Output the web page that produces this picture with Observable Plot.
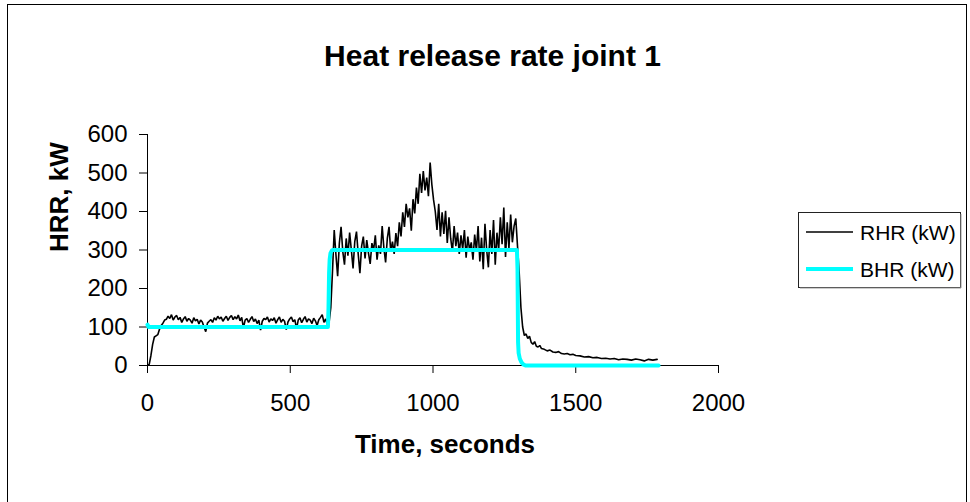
<!DOCTYPE html>
<html>
<head>
<meta charset="utf-8">
<script src="https://cdn.jsdelivr.net/npm/d3@7"></script>
<script src="https://cdn.jsdelivr.net/npm/@observablehq/plot@0.6"></script>
<style>
  body { margin: 0; background: #fff; overflow: hidden; }
  #wrap { position: relative; width: 970px; height: 502px; overflow: hidden; background: #fff;
          font-family: Arial, "Liberation Sans", sans-serif; }
  #wrap svg { position: absolute; left: 0; top: 0; }
  #frame { position: absolute; left: 7px; top: 4px; width: 958px; height: 560px;
           border: 1px solid #000; pointer-events: none; }
  #legend { position: absolute; left: 798px; top: 212px; }
</style>
</head>
<body>
<div id="wrap">
  <div id="chart"></div>
  <div id="frame"></div>
  <div id="legend"></div>
</div>
<script>
// ---- Data ----
const titleText = "Heat release rate joint 1";
const xLabel = "Time, seconds";
const yLabel = "HRR, kW";
const seriesNames = ["RHR (kW)", "BHR (kW)"];
const seriesColors = ["#000000", "#00FFFF"];
const xTicks = [0, 500, 1000, 1500, 2000];
const yTicks = [0, 100, 200, 300, 400, 500, 600];

// RHR (kW): measured heat release rate, [time s, kW]
const rhrRamp = [[0,0],[6,3],[12,26],[18,55],[24,74],[30,77],[36,80],[42,94],[48,104],[54,110],[60,118]];
const rhrLow = [[66,120],[72,128],[78,122],[84,132],[90,118],[96,126],[102,130],[108,119],[114,125],[120,112],
  [126,121],[132,127],[138,115],[144,122],[150,118],[156,110],[162,124],[168,116],[174,120],[180,108],
  [186,118],[192,113],[198,100],[204,88],[210,110],[216,115],[222,119],[228,112],[234,124],[240,118],
  [246,128],[252,121],[258,126],[264,115],[270,122],[276,128],[282,117],[288,125],[294,130],[300,119],
  [306,127],[312,121],[318,131],[324,116],[330,125],[336,98],[342,118],[348,122],[354,112],[360,120],
  [366,127],[372,114],[378,121],[384,109],[390,118],[396,92],[402,115],[408,122],[414,119],[420,126],
  [426,113],[432,121],[438,117],[444,124],[450,110],[456,119],[462,126],[468,112],[474,120],[480,115],
  [486,93],[492,113],[498,121],[504,126],[510,114],[516,119],[522,96],[528,118],[534,124],[540,111],
  [546,120],[552,127],[558,113],[564,121],[570,118],[576,109],[582,123],[588,116],[594,104],[600,119],
  [606,125],[612,132],[618,112],[624,121],[630,106]];
const rhrRise = [[636,112],[642,150],[648,245]];
const rhrHigh = [[654,352],[660,288],[666,232],[672,318],[678,360],[684,296],[690,262],[696,330],[702,285],[708,345],
  [714,300],[720,252],[726,322],[732,348],[738,290],[744,240],[750,310],[756,335],[762,278],[768,326],
  [774,292],[780,264],[786,318],[792,300],[798,338],[804,275],[810,312],[816,290],[822,362],[828,305],
  [834,268],[840,330],[846,360],[852,296],[858,322],[864,290],[870,344],[876,310],[882,372],[888,335],
  [894,398],[900,360],[906,420],[912,385],[918,408],[924,350],[930,432],[936,395],[942,462],[948,420],
  [954,498],[960,448],[966,505],[972,455],[978,488],[984,440],[990,527],[996,470],[1002,430],[1008,400],
  [1014,352],[1020,420],[1026,335],[1032,398],[1038,342],[1044,402],[1050,318],[1056,385],[1062,330],[1068,295],
  [1074,362],[1080,310],[1086,345],[1092,290],[1098,338],[1104,302],[1110,352],[1116,280],[1122,335],[1128,300],
  [1134,320],[1140,275],[1146,340],[1152,298],[1158,362],[1164,270],[1170,332],[1176,250],[1182,368],[1188,300],
  [1194,255],[1200,352],[1206,290],[1212,378],[1218,262],[1224,345],[1230,300],[1236,385],[1242,315],[1248,410],
  [1254,282],[1260,372],[1266,305],[1272,392],[1278,320],[1284,362],[1290,382],[1296,310]];
const rhrDecay = [[1302,240],[1308,150],[1314,100],[1320,78],[1326,82],[1332,70],[1338,76],[1344,60],[1350,55],
  [1356,62],[1362,50],[1368,48],[1374,52],[1380,44],[1390,42],[1400,38],[1410,40],[1420,35],[1430,34],
  [1440,36],[1450,31],[1460,30],[1470,31],[1480,28],[1490,29],[1500,26],[1515,25],[1530,22],[1545,23],
  [1560,20],[1575,21],[1590,18],[1605,19],[1620,17],[1635,18],[1650,15],[1665,17],[1680,16],[1695,14],
  [1710,17],[1725,15],[1740,12],[1755,16],[1770,14],[1785,16]];

// BHR (kW): burner heat release, [time s, kW]
const bhr = [[0,106],[4,100],[632,100],[634,150],[636,240],[638,275],[641,292],[646,299],[650,300],
  [1294,300],[1296,250],[1298,60],[1300,32],[1304,18],[1310,8],[1316,3],[1324,0],[1790,0]];

// ---- Build ----
const toObj = ([t, v]) => ({t, v});
const rhrData = [...rhrRamp, ...rhrLow, ...rhrRise, ...rhrHigh, ...rhrDecay].map(toObj);
const bhrData = bhr.map(toObj);
const FONT = "Arial, 'Liberation Sans', sans-serif";

const chart = Plot.plot({
  width: 970,
  height: 502,
  marginLeft: 147,
  marginRight: 252,
  marginTop: 134,
  marginBottom: 137,
  style: {fontFamily: FONT, color: "#000", background: "transparent", overflow: "visible"},
  x: {domain: [0, 2000], ticks: xTicks},
  y: {domain: [0, 600], ticks: yTicks},
  marks: [
    Plot.axisX({ticks: xTicks, tickSize: 8, tickPadding: 20, fontSize: 24, label: null, tickFormat: d => `${d}`}),
    Plot.axisY({ticks: yTicks, tickSize: 8, tickPadding: 12, fontSize: 24, label: null, tickFormat: d => `${d}`}),
    Plot.ruleY([0], {stroke: "#000"}),
    Plot.ruleX([0], {stroke: "#000"}),
    Plot.line(rhrData, {x: "t", y: "v", stroke: seriesColors[0], strokeWidth: 1.6, strokeLinejoin: "miter"}),
    Plot.line(bhrData, {x: "t", y: "v", stroke: seriesColors[1], strokeWidth: 4, strokeLinejoin: "round"}),
    Plot.text([titleText], {frameAnchor: "top", dx: 59.5, dy: -69, lineAnchor: "bottom",
      fontSize: 30, fontWeight: "bold", fill: "#000"}),
    Plot.text([xLabel], {frameAnchor: "bottom", dx: 12, dy: 87, lineAnchor: "bottom",
      fontSize: 26, fontWeight: "bold", fill: "#000"}),
    Plot.text([yLabel], {frameAnchor: "left", dx: -80, dy: 2, rotate: -90, lineAnchor: "bottom",
      fontSize: 26, fontWeight: "bold", fill: "#000"})
  ]
});
document.getElementById("chart").appendChild(chart);

// ---- Legend ----
const lw = 164, lh = 77;
const legend = d3.select("#legend").append("svg")
  .attr("width", lw).attr("height", lh)
  .style("font-family", FONT);
legend.append("rect").attr("x", 0.5).attr("y", 0.5).attr("width", lw - 2).attr("height", lh - 2)
  .attr("fill", "#fff").attr("stroke", "#222");
legend.append("line").attr("x1", lw - 1).attr("x2", lw - 1).attr("y1", 2).attr("y2", lh - 1)
  .attr("stroke", "#999");
legend.append("line").attr("x1", 2).attr("x2", lw - 1).attr("y1", lh - 1).attr("y2", lh - 1)
  .attr("stroke", "#999");
const rows = [{y: 20, w: 1.5}, {y: 57, w: 4}];
seriesNames.forEach((name, i) => {
  legend.append("line").attr("x1", 8).attr("x2", 55).attr("y1", rows[i].y).attr("y2", rows[i].y)
    .attr("stroke", seriesColors[i]).attr("stroke-width", rows[i].w);
  legend.append("text").attr("x", 62).attr("y", rows[i].y + 8).attr("font-size", 21)
    .attr("fill", "#000").text(name);
});
</script>
</body>
</html>
